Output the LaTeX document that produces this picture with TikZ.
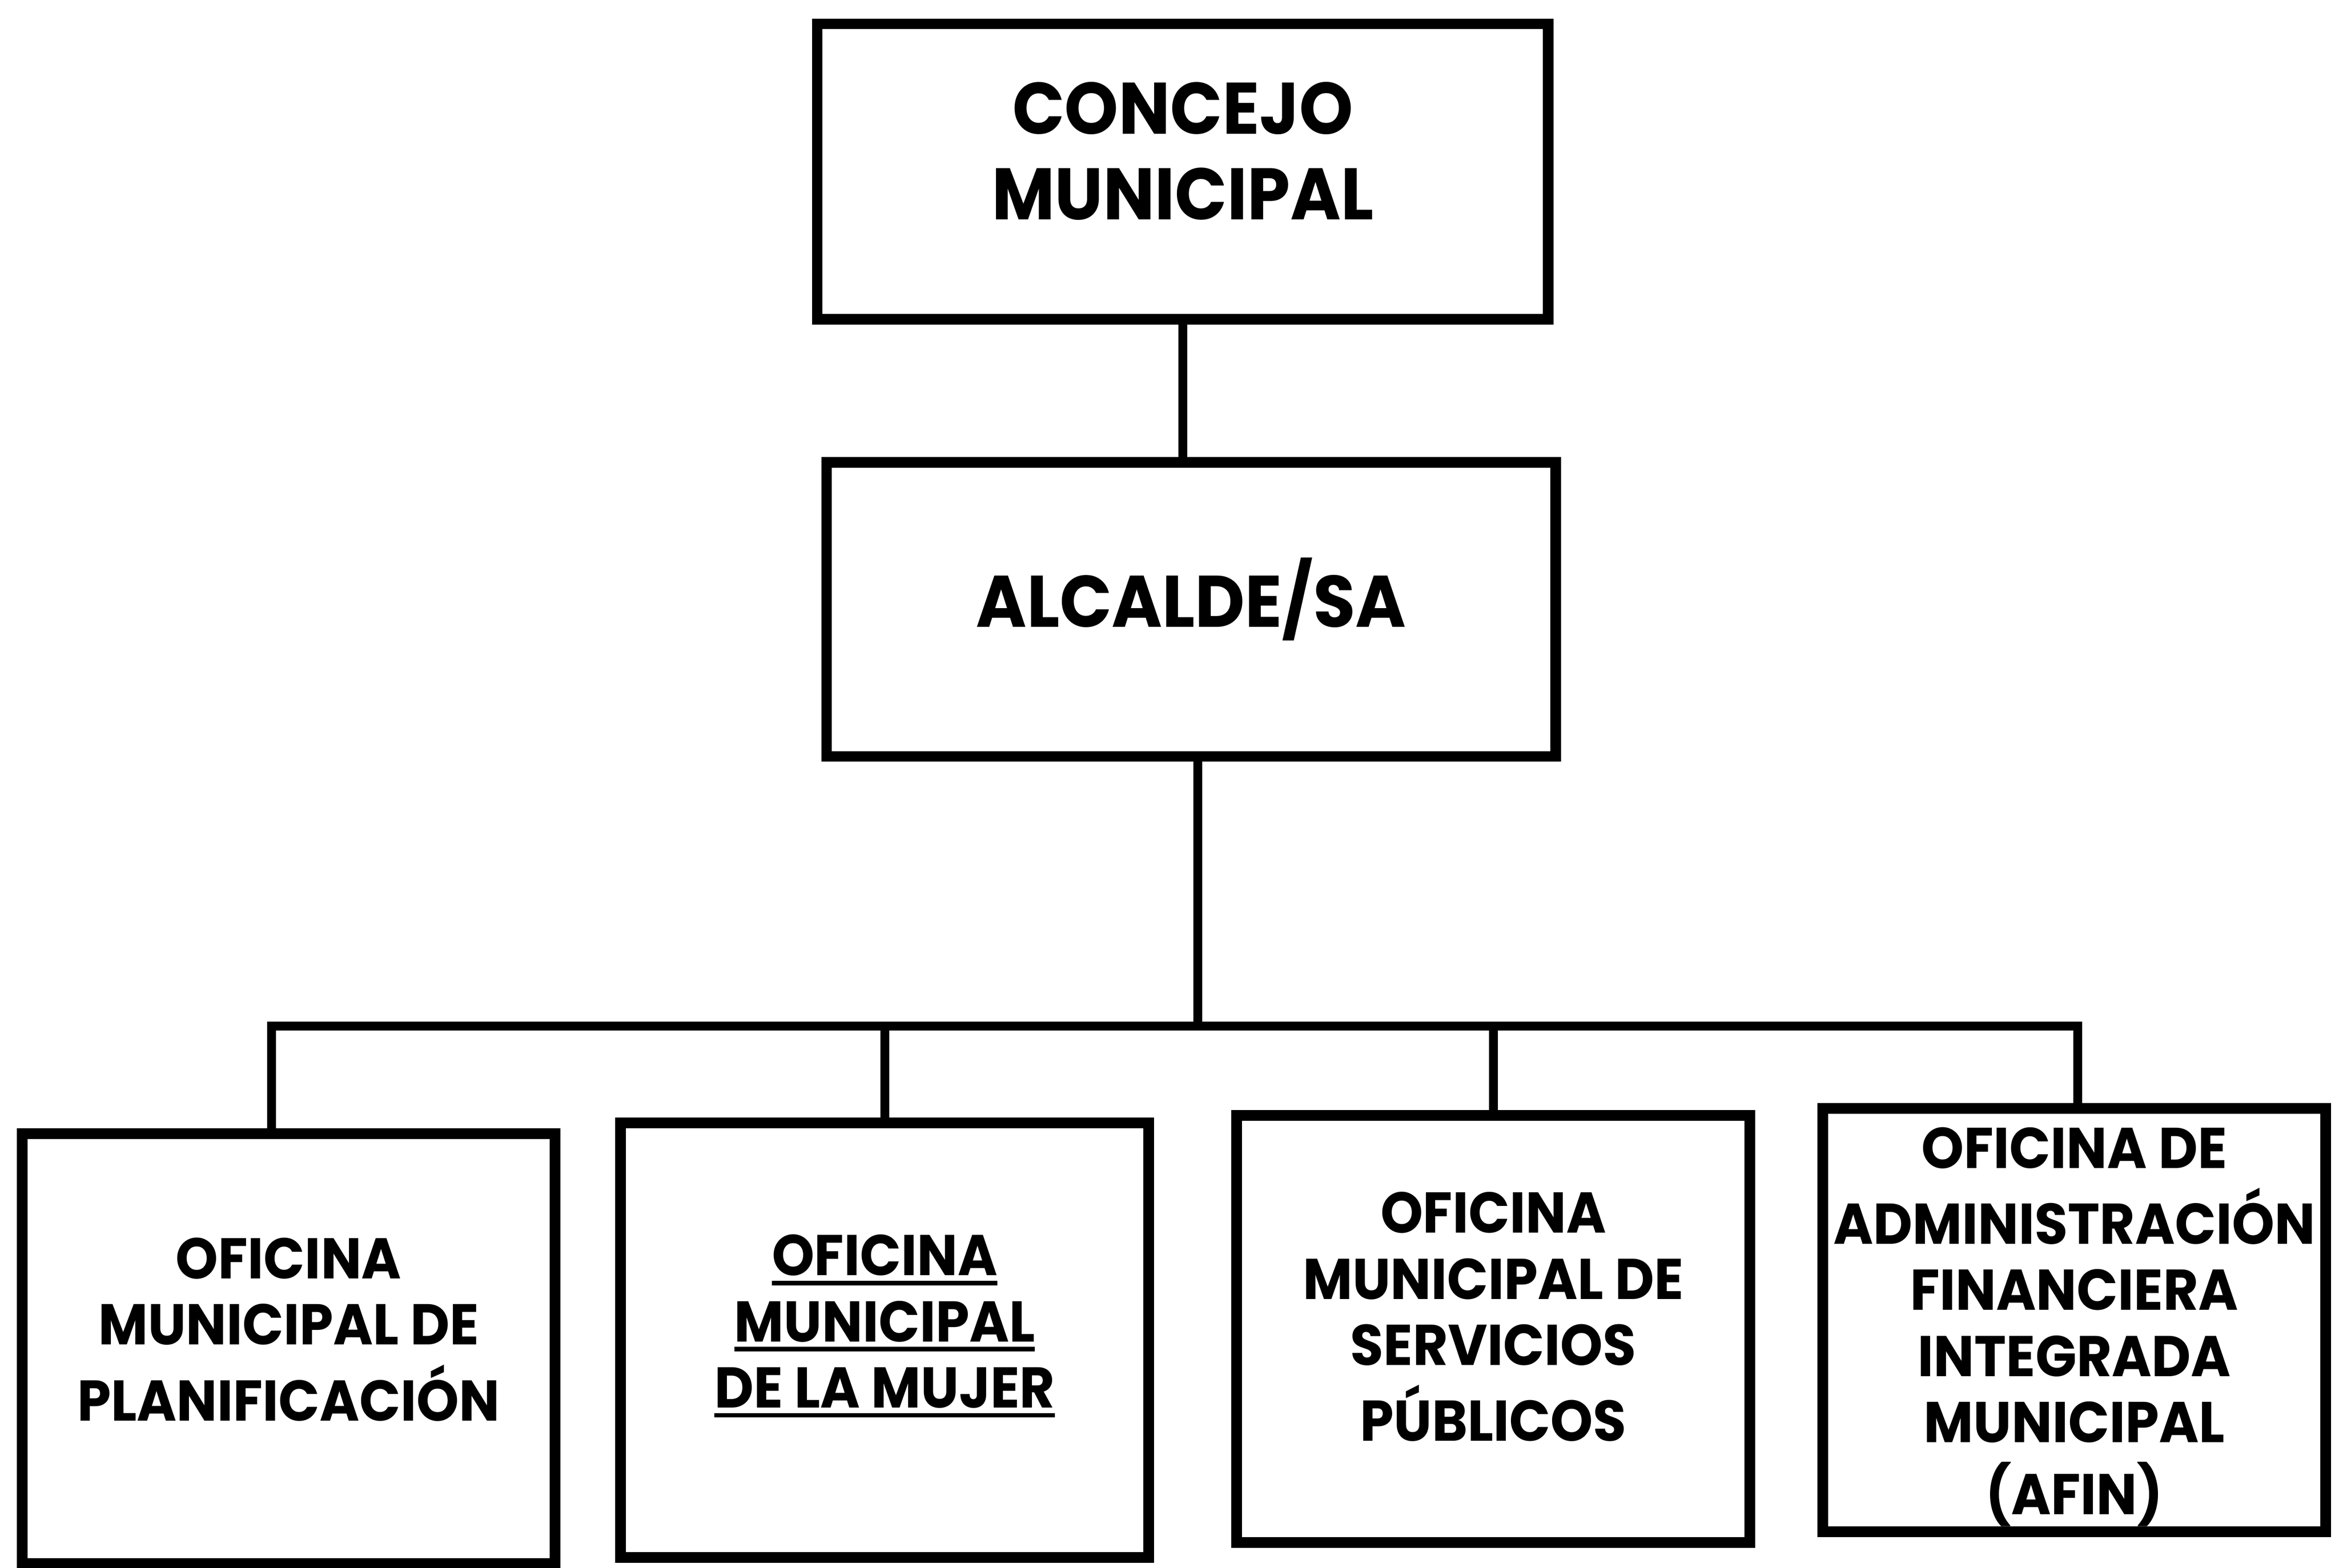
\documentclass[tikz,border=0pt]{standalone}
\usepackage{fontspec}
\setmainfont{Poppins}[FakeStretch=0.94]
\usepackage{tikz}

% text block of a box, lifted by #1
\newcommand\bloque[2]{\raisebox{#1}[0pt][0pt]{\begin{tabular}{@{}c@{}}#2\end{tabular}}}
% thick underline
\newcommand\subraya[1]{\setbox0=\hbox{#1}\rlap{\rule[-0.22cm]{\wd0}{0.1cm}}\box0}

\begin{document}
\begin{tikzpicture}[x=1cm,y=1cm,
  caja/.style={draw,line width=0.24cm,inner sep=0pt,outer sep=0pt},
  grande/.style={font=\fontsize{47}{55}\selectfont\bfseries},
  chico/.style={font=\fontsize{37}{42.5}\selectfont\bfseries},
  linea/.style={line width=0.2cm}]
\fill[white] (0,0) rectangle (52.92,-35.47);
\useasboundingbox (0,0) rectangle (52.92,-35.47);

\node[caja,grande,minimum width=16.54cm,minimum height=6.68cm] (concejo) at (26.76,-3.88) {\bloque{0.05cm}{CONCEJO\\MUNICIPAL}};
\node[caja,grande,minimum width=16.5cm,minimum height=6.65cm] (alcalde) at (26.95,-13.79) {\bloque{-0.12cm}{ALCALDE/SA}};

\node[caja,chico,minimum width=12.06cm,minimum height=9.72cm] (planif) at (6.53,-30.51) {\bloque{0.05cm}{OFICINA\\MUNICIPAL DE\\PLANIFICACIÓN}};
\node[caja,chico,minimum width=11.95cm,minimum height=9.83cm] (mujer) at (20.015,-30.325) {\bloque{0.05cm}{\subraya{OFICINA}\\\subraya{MUNICIPAL}\\\subraya{DE LA MUJER}}};
\node[caja,chico,minimum width=11.61cm,minimum height=9.66cm] (servicios) at (33.785,-30.07) {\bloque{-0.1cm}{OFICINA\\MUNICIPAL DE\\SERVICIOS\\PÚBLICOS}};
\node[caja,chico,minimum width=11.38cm,minimum height=9.58cm] (afin) at (46.93,-29.87) {\bloque{-0.4cm}{OFICINA DE\\ADMINISTRACIÓN\\FINANCIERA\\INTEGRADA\\MUNICIPAL\\(AFIN)}};

\coordinate (barra) at (0,-23.22);
\draw[linea] (concejo.south) -- (concejo.south |- alcalde.north);
\draw[linea] ([xshift=0.15cm]alcalde.south) -- ([xshift=0.15cm]alcalde.south |- barra);
\draw[linea] ([xshift=-0.39cm]planif.north) -- ([xshift=-0.39cm]planif.north |- barra) -- ([xshift=0.08cm]afin.north |- barra) -- ([xshift=0.08cm]afin.north);
\draw[linea] (mujer.north) -- (mujer.north |- barra);
\draw[linea] (servicios.north) -- (servicios.north |- barra);
\end{tikzpicture}
\end{document}
